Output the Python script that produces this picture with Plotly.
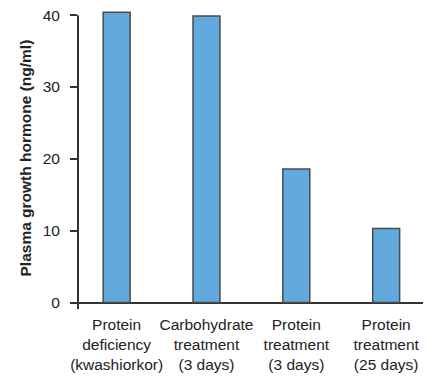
import plotly.graph_objects as go

categories = ["Protein<br>deficiency<br>(kwashiorkor)",
              "Carbohydrate<br>treatment<br>(3 days)",
              "Protein<br>treatment<br>(3 days)",
              "Protein<br>treatment<br>(25 days)"]
values = [40.4, 39.9, 18.6, 10.3]
y_tickvals = [0, 10, 20, 30, 40]
y_title = "<b>Plasma growth hormone (ng/ml)</b>"

axis_color = "#333333"
text_color = "#222222"
font_family = "Liberation Sans, Arial, sans-serif"

fig = go.Figure()
fig.add_trace(go.Bar(
    x=categories, y=values, width=0.30,
    marker=dict(color="#62A9DE", line=dict(color="#4a4a4a", width=1.5)),
    hoverinfo="skip",
))

# page has an 8px body margin, so the figure is 8px smaller on each dimension
fig.update_layout(
    width=435, height=373,
    margin=dict(l=70, r=20, t=0, b=72),
    paper_bgcolor="white", plot_bgcolor="white",
    showlegend=False,
    font=dict(family=font_family, size=15.5, color=text_color),
)
fig.update_xaxes(
    range=[-0.43, 3.41],
    showline=False, showgrid=False, zeroline=False,
    ticks="", tickangle=0, tickfont=dict(size=15.5, color=text_color),
    ticklabelstandoff=4, automargin=False,
)
fig.update_yaxes(
    range=[-0.9, 41.0],
    tickvals=y_tickvals,
    showline=False, showgrid=False,
    zeroline=True, zerolinecolor=axis_color, zerolinewidth=2,
    ticks="outside", ticklen=7, tickwidth=2, tickcolor=axis_color,
    tickfont=dict(size=15.5, color=text_color),
    ticklabelstandoff=7, ticklabeloverflow="allow", automargin=False,
)
# y-axis title as rotated annotation
fig.add_annotation(text=y_title, xref="paper", yref="paper",
                   x=0, y=0.5, xshift=-53, textangle=-90,
                   xanchor="center", yanchor="middle", showarrow=False,
                   font=dict(size=15.5, color=text_color))
# vertical axis line from just below zero up to the top tick
fig.add_shape(type="line", xref="paper", yref="y",
              x0=0, x1=0, y0=-0.9, y1=40,
              line=dict(color=axis_color, width=2), layer="above")

fig.write_html("out.html")
